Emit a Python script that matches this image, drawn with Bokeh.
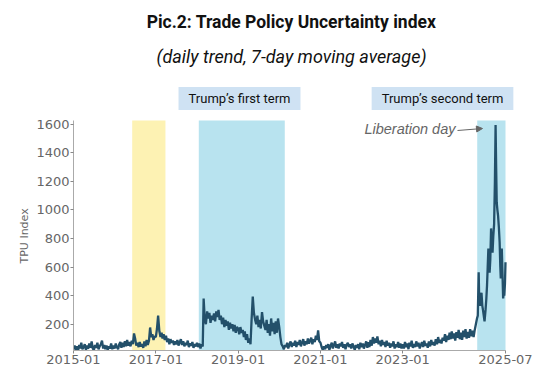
import datetime as dt
from bokeh.plotting import figure
from bokeh.models import (BoxAnnotation, Label, Arrow, NormalHead, FixedTicker, Title,
                          DatetimeTickFormatter, Range1d, ColumnDataSource)
from bokeh.embed import file_html
from bokeh.resources import INLINE

# ---- data: TPU index, 7-day moving average (~3 points / month) ----
tpu_2015 = [25, 50, 20, 45, 18, 55, 30, 70, 25, 40, 60, 22, 50, 28, 65, 35, 80, 30,
            20, 55, 35, 70, 25, 45, 60, 85, 30, 55, 25, 50, 20, 45, 30, 65, 25, 50]
tpu_2016 = [30, 65, 40, 25, 60, 75, 35, 70, 40, 80, 45, 90, 50, 75, 45, 85, 60, 135,
            100, 50, 70, 40, 75, 45, 60, 35, 80, 45, 90, 55, 85, 177, 110, 130, 90, 115]
tpu_2017 = [110, 170, 260, 150, 110, 140, 100, 130, 90, 120, 75, 100, 60, 95, 70, 85, 55, 80,
            60, 90, 50, 75, 95, 55, 80, 45, 70, 55, 85, 40, 65, 50, 75, 35, 60, 45]
tpu_2018 = [70, 40, 65, 30, 60, 45, 380, 230, 200, 290, 240, 280, 210, 260, 230, 275, 220, 290,
            250, 300, 230, 260, 200, 245, 180, 230, 190, 220, 160, 210, 170, 200, 150, 195, 140, 180]
tpu_2019 = [170, 130, 180, 140, 160, 110, 150, 90, 130, 70, 100, 60, 240, 393, 280, 230, 200, 260,
            180, 230, 170, 285, 220, 190, 160, 230, 140, 200, 120, 240, 150, 210, 130, 220, 140, 240]
tpu_2020 = [180, 110, 60, 45, 25, 55, 40, 70, 30, 60, 80, 40, 70, 50, 85, 40, 75, 55,
            90, 45, 70, 95, 50, 80, 60, 100, 65, 85, 105, 60, 95, 75, 120, 90, 156, 80]
tpu_2021 = [70, 40, 20, 45, 25, 55, 35, 60, 20, 50, 70, 30, 55, 80, 35, 60, 30, 65,
            45, 75, 35, 60, 25, 55, 70, 40, 60, 30, 65, 45, 20, 55, 35, 60, 25, 70]
tpu_2022 = [40, 65, 30, 55, 80, 35, 75, 40, 90, 50, 110, 65, 100, 70, 115, 60, 85, 45,
            90, 55, 75, 40, 85, 50, 70, 35, 65, 45, 80, 30, 60, 40, 75, 35, 65, 30]
tpu_2023 = [60, 30, 75, 40, 65, 25, 70, 45, 85, 35, 60, 40, 80, 45, 70, 30, 55, 75,
            40, 85, 50, 65, 35, 80, 45, 90, 55, 75, 50, 95, 60, 110, 70, 90, 65, 105]
tpu_2024 = [85, 130, 75, 120, 90, 140, 95, 150, 100, 135, 85, 145, 105, 160, 95, 140, 90, 155,
            110, 165, 100, 145, 105, 165, 115, 155, 110, 160, 200, 240]
years = [2015, 2016, 2017, 2018, 2019, 2020, 2021, 2022, 2023, 2024]
yearly = [tpu_2015, tpu_2016, tpu_2017, tpu_2018, tpu_2019, tpu_2020, tpu_2021, tpu_2022,
          tpu_2023, tpu_2024]

# second-term period, denser readings
late_dates = ["2024-10-28", "2024-11-05", "2024-11-10", "2024-11-17", "2024-11-24", "2024-11-30",
              "2024-12-07", "2024-12-13", "2024-12-20", "2024-12-27", "2025-01-05", "2025-01-12",
              "2025-01-18", "2025-01-24", "2025-01-30", "2025-02-05", "2025-02-10", "2025-02-16",
              "2025-02-23", "2025-03-01", "2025-03-08", "2025-03-15", "2025-03-22", "2025-03-29",
              "2025-04-04", "2025-04-09", "2025-04-14", "2025-04-20", "2025-04-26", "2025-05-03",
              "2025-05-10", "2025-05-16", "2025-05-20", "2025-05-25", "2025-05-29", "2025-06-04",
              "2025-06-10", "2025-06-15", "2025-06-20", "2025-06-26", "2025-07-01"]
late_values = [260, 563, 350, 330, 400, 420, 330, 300, 260, 220, 300, 380,
               470, 600, 730, 620, 560, 650, 870, 760, 700, 820, 900, 1200,
               1593, 1300, 1052, 1000, 960, 880, 773, 600, 520, 640, 730, 560,
               380, 420, 400, 480, 633]

tick_labels = ["2015-01", "2017-01", "2019-01", "2021-01", "2023-01", "2025-07"]
y_ticks = [200, 400, 600, 800, 1000, 1200, 1400, 1600]

bands = [("2016-06-05", "2017-03-27", "#fdf2b3"),
         ("2018-01-17", "2020-02-19", "#b8e3ef"),
         ("2024-10-23", "2025-07-01", "#b8e3ef")]


def ms(s):
    d = dt.datetime.strptime(s, "%Y-%m-%d")
    return (d - dt.datetime(1970, 1, 1)).total_seconds() * 1000.0


dates, values = [], []
for yr, vals in zip(years, yearly):
    for i, v in enumerate(vals):
        m, k = divmod(i, 3)
        dates.append(ms(f"{yr}-{m + 1:02d}-{1 + 10 * k:02d}"))
        values.append(v)
for d, v in zip(late_dates, late_values):
    dates.append(ms(d))
    values.append(v)

# ---- geometry (page pixels; the page has no margin) ----
W, H = 545, 368
FL, FB = 73, 350            # frame left / bottom
AX_R, AX_T = 505, 120       # where the axes end (x: 2025-07, y: top of the bands)
X0, X1 = ms("2015-01-01"), ms("2025-07-01")
Y0, YTOP = 16, 1625
KX = (X1 - X0) / (AX_R - FL)
KY = (YTOP - Y0) / (FB - AX_T)
X_END = X0 + (W - FL) * KX
Y_END = Y0 + FB * KY


def px_x(px):
    return X0 + (px - FL) * KX


def px_y(py):
    return Y0 + (FB - py) * KY


p = figure(width=W, height=H, output_backend="svg", toolbar_location=None,
           x_axis_type="datetime", x_range=Range1d(X0, X_END), y_range=Range1d(Y0, Y_END),
           min_border_left=FL, min_border_right=0, min_border_top=0,
           min_border_bottom=H - FB)
p.outline_line_color = None
p.xgrid.grid_line_color = None
p.ygrid.grid_line_color = None
p.background_fill_color = "white"
p.border_fill_color = "white"

for a, b, c in bands:
    p.add_layout(BoxAnnotation(left=ms(a), right=ms(b), bottom=Y0, top=YTOP, fill_color=c,
                               fill_alpha=1.0, line_alpha=0, level="underlay"))

src = ColumnDataSource(dict(x=dates, y=values))
p.line("x", "y", source=src, line_color="#23506a", line_width=2.3)

tick_ms = [ms(t + "-01") for t in tick_labels]
p.xaxis.ticker = FixedTicker(ticks=tick_ms)
fmt = "%Y-%m"
p.xaxis.formatter = DatetimeTickFormatter(years=fmt, months=fmt, days=fmt, hours=fmt,
                                          minutes=fmt, seconds=fmt, milliseconds=fmt,
                                          minsec=fmt, hourmin=fmt)
p.yaxis.ticker = FixedTicker(ticks=y_ticks)
p.xaxis.bounds = (X0, X1)
p.yaxis.bounds = (Y0, YTOP)

for ax in (p.xaxis[0], p.yaxis[0]):
    ax.axis_line_color = "#aaaaaa"
    ax.major_tick_line_color = "#888888"
    ax.major_tick_in = 0
    ax.major_tick_out = 3
    ax.minor_tick_line_color = None
    ax.major_label_text_font = "DejaVu Sans"
    ax.major_label_text_font_size = "13px"
    ax.major_label_text_color = "#666666"
    ax.major_label_standoff = 1

# y-axis title, centred on the axis extent (not the whole frame)
p.add_layout(Title(text="TPU Index", align="left", offset=FB - 263, vertical_align="middle",
                   text_font="DejaVu Sans", text_font_size="11px", text_font_style="normal",
                   text_color="#666666", standoff=4), "left")

# titles
p.add_layout(Label(x=px_x(291), y=px_y(21), text="Pic.2: Trade Policy Uncertainty index",
                   text_font="Roboto", text_font_size="17.5px", text_font_style="bold",
                   text_color="#111111", text_align="center", text_baseline="middle"))
p.add_layout(Label(x=px_x(291), y=px_y(56), text="(daily trend, 7-day moving average)",
                   text_font="Roboto", text_font_size="18px", text_font_style="italic",
                   text_color="#111111", text_align="center", text_baseline="middle"))

# term labels
for cx, txt in ((239, "Trump’s first term"), (442, "Trump’s second term")):
    p.add_layout(Label(x=px_x(cx), y=px_y(98), text=txt, text_font="Roboto",
                       text_font_size="13px", text_color="#111111", text_align="center",
                       text_baseline="middle", background_fill_color="#cfe2f3",
                       padding=(10, 4)))

# Liberation day annotation
p.add_layout(Label(x=px_x(455), y=px_y(128), text="Liberation day",
                   text_font="Liberation Sans", text_font_size="14.5px",
                   text_font_style="italic", text_color="#666666",
                   text_align="right", text_baseline="middle"))
p.add_layout(Arrow(end=NormalHead(size=6, fill_color="#666666", line_color="#666666"),
                   x_start=px_x(457), y_start=px_y(130), x_end=px_x(482), y_end=px_y(128),
                   line_color="#666666", line_width=1))

open("out.html", "w").write(file_html(p, INLINE))
